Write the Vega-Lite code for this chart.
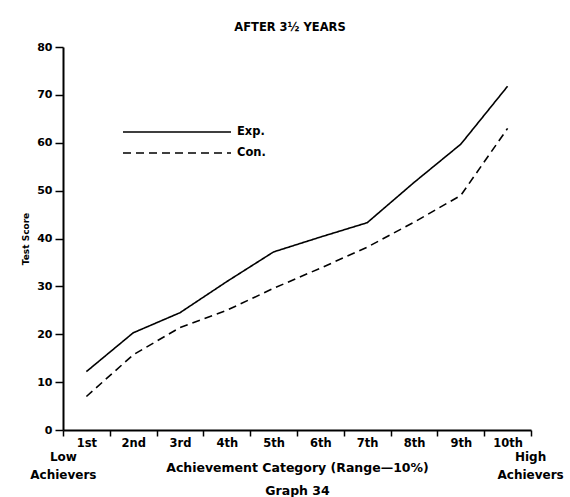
{
  "$schema": "https://vega.github.io/schema/vega-lite/v6.json",
  "autosize": {"type": "none"},
  "padding": {"left": 63, "top": 47, "right": 39, "bottom": 67},
  "width": 468,
  "height": 383,
  "background": "white",
  "config": {
    "view": {"stroke": null},
    "font": "DejaVu Sans",
    "title": {"font": "DejaVu Sans", "fontSize": 11.5, "fontWeight": "bold", "color": "black", "offset": 8}
  },
  "title": {"text": "AFTER 3½ YEARS", "anchor": "middle", "dx": -7},
  "layer": [
    {
      "data": {"values": [
        {"cat": "1st", "group": "Exp.", "score": 12.2},
        {"cat": "2nd", "group": "Exp.", "score": 20.3},
        {"cat": "3rd", "group": "Exp.", "score": 24.5},
        {"cat": "4th", "group": "Exp.", "score": 31.0},
        {"cat": "5th", "group": "Exp.", "score": 37.2},
        {"cat": "6th", "group": "Exp.", "score": 40.3},
        {"cat": "7th", "group": "Exp.", "score": 43.3},
        {"cat": "8th", "group": "Exp.", "score": 51.7},
        {"cat": "9th", "group": "Exp.", "score": 59.7},
        {"cat": "10th", "group": "Exp.", "score": 71.8},
        {"cat": "1st", "group": "Con.", "score": 7.0},
        {"cat": "2nd", "group": "Con.", "score": 15.7},
        {"cat": "3rd", "group": "Con.", "score": 21.4},
        {"cat": "4th", "group": "Con.", "score": 25.0},
        {"cat": "5th", "group": "Con.", "score": 29.6},
        {"cat": "6th", "group": "Con.", "score": 33.8},
        {"cat": "7th", "group": "Con.", "score": 38.2},
        {"cat": "8th", "group": "Con.", "score": 43.4},
        {"cat": "9th", "group": "Con.", "score": 49.0},
        {"cat": "10th", "group": "Con.", "score": 63.0}
      ]},
      "mark": {"type": "line", "color": "black", "strokeWidth": 1.6},
      "encoding": {
        "x": {
          "field": "cat", "type": "ordinal",
          "sort": ["1st","2nd","3rd","4th","5th","6th","7th","8th","9th","10th"],
          "scale": {"type": "band", "paddingInner": 0, "paddingOuter": 0},
          "axis": {
            "title": ["Achievement Category (Range—10%)", "Graph 34"],
            "titleFont": "DejaVu Sans", "titleFontSize": 12.5, "titleFontWeight": "bold", "titleColor": "black",
            "titleLineHeight": 23, "titlePadding": 13,
            "labelAngle": 0, "labelFont": "DejaVu Sans", "labelFontSize": 11.5, "labelFontWeight": "bold", "labelColor": "black",
            "labelPadding": 1,
            "tickBand": "extent", "ticks": true, "tickSize": 6, "tickColor": "black", "tickWidth": 1.5,
            "domainColor": "black", "domainWidth": 2, "grid": false
          }
        },
        "y": {
          "field": "score", "type": "quantitative",
          "scale": {"domain": [0, 80], "nice": false},
          "axis": {
            "title": "Test Score", "values": [0,10,20,30,40,50,60,70,80],
            "titleFont": "DejaVu Sans", "titleFontSize": 9, "titleFontWeight": "bold", "titleColor": "black",
            "titlePadding": 6,
            "labelFont": "DejaVu Sans", "labelFontSize": 11, "labelFontWeight": "bold", "labelColor": "black",
            "labelPadding": 3,
            "tickSize": 8, "tickColor": "black", "tickWidth": 1.5,
            "domainColor": "black", "domainWidth": 2, "grid": false
          }
        },
        "strokeDash": {
          "field": "group", "type": "nominal",
          "scale": {"domain": ["Exp.", "Con."], "range": [[1, 0], [8, 5]]},
          "legend": {
            "title": null, "orient": "none", "legendX": 59, "legendY": 76,
            "symbolType": "stroke", "symbolSize": 11664, "symbolStrokeWidth": 1.6,
            "symbolStrokeColor": "black", "clipHeight": 18, "rowPadding": 3,
            "labelFont": "DejaVu Sans", "labelFontSize": 11.5, "labelFontWeight": "bold", "labelColor": "black",
            "labelOffset": 5
          }
        }
      }
    },
    {
      "data": {"values": [
        {"cat": "1st", "score": 0, "label": "Low\nAchievers"}
      ]},
      "mark": {"type": "text", "font": "DejaVu Sans", "fontSize": 12, "fontWeight": "bold", "color": "black",
               "lineBreak": "\n", "lineHeight": 18, "baseline": "top", "align": "center", "dx": -23, "dy": 22},
      "encoding": {
        "x": {"field": "cat", "type": "ordinal", "sort": ["1st","2nd","3rd","4th","5th","6th","7th","8th","9th","10th"]},
        "y": {"field": "score", "type": "quantitative"},
        "text": {"field": "label"}
      }
    },
    {
      "data": {"values": [
        {"cat": "10th", "score": 0, "label": "High\nAchievers"}
      ]},
      "mark": {"type": "text", "font": "DejaVu Sans", "fontSize": 12, "fontWeight": "bold", "color": "black",
               "lineBreak": "\n", "lineHeight": 18, "baseline": "top", "align": "center", "dx": 23, "dy": 22},
      "encoding": {
        "x": {"field": "cat", "type": "ordinal", "sort": ["1st","2nd","3rd","4th","5th","6th","7th","8th","9th","10th"]},
        "y": {"field": "score", "type": "quantitative"},
        "text": {"field": "label"}
      }
    }
  ]
}
